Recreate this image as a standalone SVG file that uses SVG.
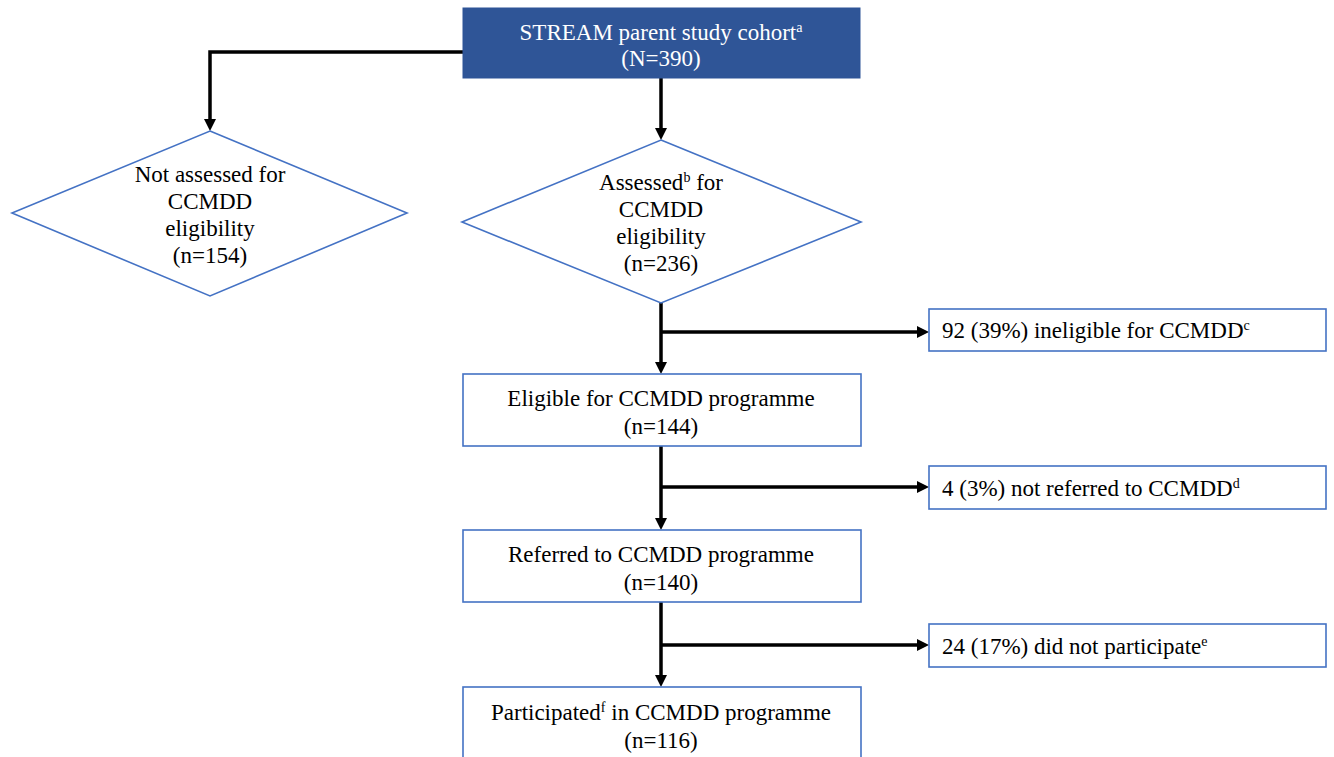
<svg xmlns="http://www.w3.org/2000/svg" width="1334" height="757" viewBox="0 0 1334 757">
<style>
text{font-family:"Liberation Serif","Times New Roman",serif;font-size:23px;fill:#000}
.c{text-anchor:middle}
.w{fill:#fff}
.box{fill:#fff;stroke:#4472C4;stroke-width:1.6}
.dia{fill:#fff;stroke:#4472C4;stroke-width:1.6}
.top{fill:#2F5597;stroke:#2F5597;stroke-width:1}
.ln{fill:none;stroke:#000;stroke-width:3.5}
.sup{font-size:14px}
</style>
<defs>
<marker id="ah" viewBox="0 0 12 12" markerWidth="12" markerHeight="12" markerUnits="userSpaceOnUse" refX="6" refY="6" orient="auto">
<path d="M0,0 L12,6 L0,12 z" fill="#000"/>
</marker>
</defs>
<rect width="1334" height="757" fill="#fff"/>
<g id="connectors">
<path class="ln" d="M463,52 H210 V125" marker-end="url(#ah)"/>
<path class="ln" d="M661,78 V134" marker-end="url(#ah)"/>
<path class="ln" d="M661,303 V368" marker-end="url(#ah)"/>
<path class="ln" d="M661,332 H923" marker-end="url(#ah)"/>
<path class="ln" d="M661,446 V524" marker-end="url(#ah)"/>
<path class="ln" d="M661,487 H923" marker-end="url(#ah)"/>
<path class="ln" d="M661,602 V681" marker-end="url(#ah)"/>
<path class="ln" d="M661,645 H923" marker-end="url(#ah)"/>
</g>
<g id="cohort">
<rect class="top" x="463" y="8" width="397" height="70"/>
<text class="c w" x="661" y="40">STREAM parent study cohort<tspan class="sup w" dy="-8">a</tspan></text>
<text class="c w" x="661" y="66">(N=390)</text>
</g>
<g id="not-assessed">
<polygon class="dia" points="210,131 407,213 210,296 12,213"/>
<text class="c" x="210" y="182">Not assessed for</text>
<text class="c" x="210" y="209">CCMDD</text>
<text class="c" x="210" y="236">eligibility</text>
<text class="c" x="210" y="263">(n=154)</text>
</g>
<g id="assessed">
<polygon class="dia" points="661,140 861,222 661,303 462,222"/>
<text class="c" x="661" y="190">Assessed<tspan class="sup" dy="-8">b</tspan><tspan dy="8"> for</tspan></text>
<text class="c" x="661" y="217">CCMDD</text>
<text class="c" x="661" y="244">eligibility</text>
<text class="c" x="661" y="271">(n=236)</text>
</g>
<g id="ineligible">
<rect class="box" x="929" y="309" width="397" height="42"/>
<text x="942" y="338">92 (39%) ineligible for CCMDD<tspan class="sup" dy="-8">c</tspan></text>
</g>
<g id="eligible">
<rect class="box" x="463" y="374" width="398" height="72"/>
<text class="c" x="661" y="406">Eligible for CCMDD programme</text>
<text class="c" x="661" y="434">(n=144)</text>
</g>
<g id="not-referred">
<rect class="box" x="929" y="466" width="397" height="43"/>
<text x="942" y="496">4 (3%) not referred to CCMDD<tspan class="sup" dy="-8">d</tspan></text>
</g>
<g id="referred">
<rect class="box" x="463" y="530" width="398" height="72"/>
<text class="c" x="661" y="562">Referred to CCMDD programme</text>
<text class="c" x="661" y="590">(n=140)</text>
</g>
<g id="did-not-participate">
<rect class="box" x="929" y="624" width="397" height="43"/>
<text x="942" y="654">24 (17%) did not participate<tspan class="sup" dy="-8">e</tspan></text>
</g>
<g id="participated">
<rect class="box" x="463" y="687" width="398" height="80"/>
<text class="c" x="661" y="720">Participated<tspan class="sup" dy="-8">f</tspan><tspan dy="8"> in CCMDD programme</tspan></text>
<text class="c" x="661" y="748">(n=116)</text>
</g>
</svg>
